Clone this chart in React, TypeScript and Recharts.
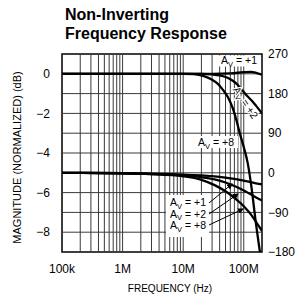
import React from 'react';
import { LineChart, Line, XAxis, YAxis, ReferenceLine, ReferenceArea } from 'recharts';

// Axis ticks
const xTicks = [1e5, 1e6, 1e7, 1e8];
const xTickLabels = ['100k', '1M', '10M', '100M'];
const magTicks = [0, -2, -4, -6, -8];
const phaseTicks = [-180, -90, 0, 90, 180, 270];

// Grid
const gridDecades = [1e5, 1e6, 1e7];
const gridMultipliers = [1, 2, 3, 4, 5, 6, 7, 8, 9];
const gridMags = [0, -1, -2, -3, -4, -5, -6, -7, -8];

// Magnitude (dB, normalized)
const magAv1Freq = [1e5, 1e6, 1e7, 3e7, 6e7, 1e8, 1.3e8, 1.6e8, 2e8];
const magAv1 = [0, 0, 0, 0, 0.02, 0.08, 0.1, 0.05, -0.05];

const magAv2Freq = [1e5, 1e6, 1e7, 2e7, 3e7, 4e7, 5.4e7, 6.6e7, 7.9e7, 9e7, 1.12e8, 1.35e8, 1.6e8, 2e8];
const magAv2 = [0, 0, 0, 0, -0.03, -0.08, -0.2, -0.35, -0.55, -0.75, -1.1, -1.35, -1.62, -2.0];

const magAv8Freq = [1e5, 1e6, 1e7, 1.5e7, 2.2e7, 3e7, 3.7e7, 4.5e7, 5.4e7, 6.6e7, 7.5e7, 8.6e7, 1e8, 1.16e8, 1.35e8, 1.55e8, 1.85e8];
const magAv8 = [0, 0, 0, -0.02, -0.12, -0.3, -0.5, -0.8, -1.15, -1.75, -2.3, -3.0, -3.7, -4.5, -5.8, -7.3, -9.0];

// Phase (degrees)
const phaseFreq = [1e5, 1e6, 3e6, 1e7, 2e7, 3.3e7, 5e7, 7e7, 1e8, 1.3e8, 1.6e8, 2e8];
const phaseAv1 = [0, -1, -2, -4, -6, -8, -11, -14, -18, -21, -24, -26];
const phaseAv2 = [0, -1, -3, -6, -10, -15, -22, -30, -40, -49, -56, -63];
const phaseAv8 = [0, -1, -3, -8, -16, -28, -42, -57, -76, -94, -112, -132];

const pts = (f: number[], v: number[]) => f.map((x, i) => ({ f: x, v: v[i] }));

const FONT = '"Liberation Sans", Arial, Helvetica, sans-serif';
const minus = (n: number) => String(n).replace('-', '\u2212');

const Av = ({ x, y, val, anchor = 'start', halo = false }: { x: number; y: number; val: string; anchor?: string; halo?: boolean }) => (
  <text
    x={x}
    y={y}
    fontSize={10.5}
    fontFamily={FONT}
    fill="#000"
    textAnchor={anchor as any}
    stroke={halo ? '#fff' : undefined}
    strokeWidth={halo ? 2.5 : undefined}
    style={halo ? { paintOrder: 'stroke' } : undefined}
  >
    A<tspan dy={2.5} fontSize={7.5}>V</tspan>
    <tspan dy={-2.5}>{` = ${val}`}</tspan>
  </text>
);

export default function App() {
  const gridFreqs: number[] = [];
  gridDecades.forEach((d) => gridMultipliers.forEach((m) => gridFreqs.push(d * m)));
  gridFreqs.push(1e8);

  const curve = { type: 'monotone' as const, dataKey: 'v', dot: false, stroke: '#000', strokeWidth: 2.3, isAnimationActive: false };
  const tickStyle = { fontSize: 12, fill: '#000', fontFamily: FONT };

  return (
    <div style={{ position: 'absolute', left: 0, top: 0, width: 301, height: 303, background: '#fff' }}>
      <LineChart width={301} height={303} margin={{ top: 54, right: 0, bottom: 21, left: 22 }}>
        <XAxis
          type="number"
          dataKey="f"
          scale="log"
          domain={[1e5, 2e8]}
          allowDataOverflow
          ticks={xTicks}
          interval={0}
          tickFormatter={(v: number) => xTickLabels[xTicks.indexOf(v)] ?? ''}
          tickLine={false}
          axisLine={false}
          tickSize={0}
          tickMargin={12}
          height={30}
          tick={tickStyle}
        />
        <YAxis
          yAxisId="mag"
          type="number"
          domain={[-9, 1]}
          allowDataOverflow
          ticks={magTicks}
          interval={0}
          tickFormatter={minus}
          tickLine={false}
          axisLine={false}
          tickSize={0}
          tickMargin={12}
          width={40}
          tick={tickStyle}
        />
        <YAxis
          yAxisId="phase"
          orientation="right"
          type="number"
          domain={[-180, 270]}
          allowDataOverflow
          ticks={phaseTicks}
          interval={0}
          tickFormatter={minus}
          tickLine={false}
          axisLine={false}
          tickSize={0}
          tickMargin={6}
          width={39}
          tick={tickStyle}
        />
        {gridFreqs.map((f) => (
          <ReferenceLine key={'gx' + f} x={f} yAxisId="mag" stroke="#3a3a3a" strokeWidth={1} />
        ))}
        {gridMags.map((m) => (
          <ReferenceLine key={'gy' + m} y={m} yAxisId="mag" stroke="#3a3a3a" strokeWidth={1} />
        ))}
        <ReferenceArea x1={1e5} x2={2e8} y1={-9} y2={1} yAxisId="mag" fill="none" fillOpacity={0} stroke="#000" strokeWidth={1.5} />
        <Line {...curve} yAxisId="mag" data={pts(magAv1Freq, magAv1)} />
        <Line {...curve} yAxisId="mag" data={pts(magAv2Freq, magAv2)} />
        <Line {...curve} yAxisId="mag" data={pts(magAv8Freq, magAv8)} />
        <Line {...curve} yAxisId="phase" data={pts(phaseFreq, phaseAv1)} />
        <Line {...curve} yAxisId="phase" data={pts(phaseFreq, phaseAv2)} />
        <Line {...curve} yAxisId="phase" data={pts(phaseFreq, phaseAv8)} />
      </LineChart>
      <svg width={301} height={303} style={{ position: 'absolute', left: 0, top: 0, pointerEvents: 'none' }}>
        <defs>
          <marker id="ah" markerWidth="6" markerHeight="6" refX="5" refY="3" orient="auto" markerUnits="userSpaceOnUse">
            <path d="M0,0 L6,3 L0,6 Z" fill="#000" />
          </marker>
        </defs>
        <text x={65} y={20} fontSize={16} fontWeight="bold" fontFamily={FONT} fill="#000">Non-Inverting</text>
        <text x={65} y={39} fontSize={16} fontWeight="bold" fontFamily={FONT} fill="#000">Frequency Response</text>
        <text x={170} y={292} fontSize={10} fontFamily={FONT} textAnchor="middle" fill="#000">FREQUENCY (Hz)</text>
        <text x={21} y={157.5} fontSize={11} fontFamily={FONT} textAnchor="middle" fill="#000" transform="rotate(-90, 21, 157.5)">
          MAGNITUDE (NORMALIZED)  (dB)
        </text>
        {/* top labels */}
        <rect x={218} y={55.5} width={41} height={11} fill="#fff" />
        <Av x={221} y={64} val="+1" />
        <rect x={196} y={136} width={42} height={12} fill="#fff" />
        <Av x={198} y={146} val="+8" />
        <g transform="rotate(56, 245, 103)">
          <Av x={245} y={106} val="+2" anchor="middle" halo />
        </g>
        {/* bottom labels */}
        <rect x={166} y={195} width={43} height={42} fill="#fff" />
        <Av x={170} y={206} val="+1" />
        <Av x={170} y={217.5} val="+2" />
        <Av x={170} y={229} val="+8" />
        <line x1={209} y1={203} x2={232} y2={184} stroke="#000" strokeWidth={1} markerEnd="url(#ah)" />
        <line x1={209} y1={214} x2={238} y2={194} stroke="#000" strokeWidth={1} markerEnd="url(#ah)" />
        <line x1={209} y1={225} x2={243} y2={209} stroke="#000" strokeWidth={1} markerEnd="url(#ah)" />
      </svg>
    </div>
  );
}
